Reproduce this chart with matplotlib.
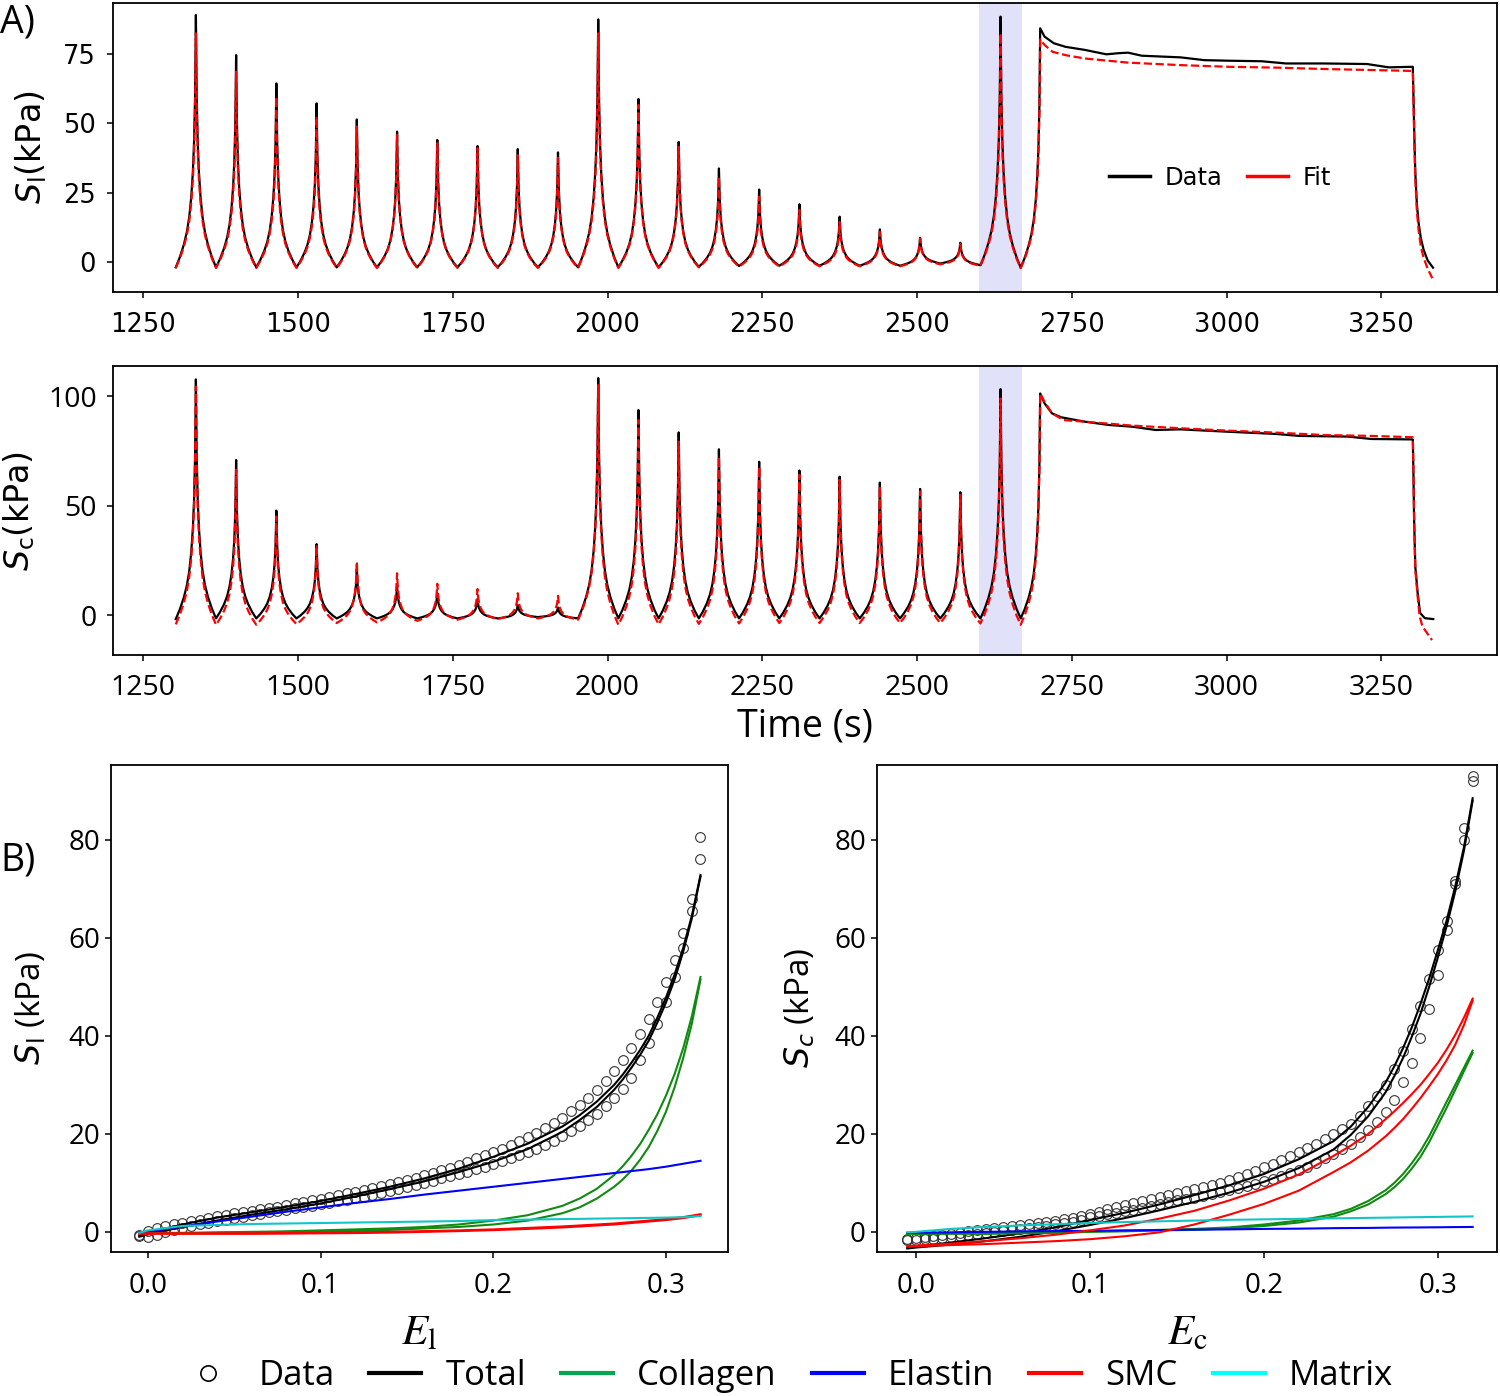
import matplotlib
matplotlib.use("Agg")
import matplotlib.pyplot as plt
from matplotlib.lines import Line2D

plt.rcParams['font.family'] = 'Open Sans'

# ---------------- panel A: cyclic loading ----------------
peak_t = [1335, 1400, 1465, 1530, 1595, 1660, 1725, 1790, 1855, 1920, 1985,
          2050, 2115, 2180, 2245, 2310, 2375, 2440, 2505, 2570, 2635]
half = 32.5  # valley -> peak time (s)

# shape of one loading ramp (fraction of time, fraction of peak rise)
rise_pos = [0.0, 0.2, 0.4, 0.55, 0.67, 0.77, 0.85, 0.91, 0.96, 1.0]
rise_frac = [0.0, 0.04, 0.09, 0.14, 0.2, 0.28, 0.38, 0.5, 0.68, 1.0]

sl_data_peaks = [89.1, 74.6, 64.4, 57.2, 51.4, 47.0, 44.0, 41.8, 40.7, 39.5, 87.5,
                 58.8, 43.3, 33.7, 26.1, 20.8, 16.3, 11.7, 8.7, 6.9, 88.5]
sl_fit_peaks = [82.5, 68.6, 59.6, 52.4, 48.8, 45.8, 42.8, 41.0, 38.5, 37.5, 82.5,
                56.6, 41.5, 30.7, 23.5, 18.7, 14.4, 10.8, 8.4, 6.4, 82.5]
sl_data_valleys = [-2.0, -2.0, -2.0, -2.0, -2.0, -2.0, -2.0, -2.0, -2.0, -2.0, -2.0,
                   -2.0, -2.0, -1.8, -1.5, -1.4, -1.4, -1.4, -1.4, -0.6, -1.2, -2.1]
sl_fit_valleys = [-2.2, -2.2, -2.2, -2.2, -2.2, -2.2, -2.2, -2.2, -2.2, -2.2, -2.2,
                  -2.2, -2.2, -2.0, -1.7, -1.6, -1.6, -1.6, -1.6, -0.9, -1.4, -2.3]

sc_data_peaks = [107.6, 70.8, 47.7, 32.4, 21.0, 13.1, 10.0, 7.3, 4.7, 3.5, 108.2,
                 93.6, 83.4, 75.7, 70.0, 66.0, 63.2, 60.5, 57.6, 56.1, 103.2]
sc_fit_peaks = [104.3, 66.3, 45.0, 32.0, 24.5, 19.1, 14.3, 11.9, 10.0, 8.8, 105.0,
                89.0, 79.2, 72.3, 67.8, 64.0, 61.7, 58.7, 56.4, 54.9, 98.9]
sc_data_valleys = [-1.8, -1.5, -1.5, -1.5, -1.5, -1.5, -1.5, -1.5, -1.5, -0.9, -1.5,
                   -1.5, -1.5, -1.5, -1.5, -1.5, -1.5, -1.5, -1.5, -1.5, -1.5, -1.5]
sc_fit_valleys = [-4.2, -4.4, -4.4, -4.1, -3.6, -3.3, -2.6, -2.1, -1.8, -1.5, -2.1,
                  -4.4, -4.2, -4.0, -3.8, -3.6, -3.6, -3.6, -3.6, -3.6, -3.8, -4.4]

# hold phase and unloading
sl_data_hold_t = [2699, 2706, 2721, 2740, 2771, 2806, 2825, 2841, 2863, 2926, 2964,
                  3003, 3057, 3096, 3158, 3227, 3262, 3301]
sl_data_hold_s = [84.3, 81.3, 78.9, 77.6, 76.5, 74.9, 75.3, 75.5, 74.4, 73.8, 72.8,
                  72.6, 72.4, 71.6, 71.6, 71.4, 70.2, 70.4]
sl_data_drop_t = [3302, 3303.5, 3305, 3307.5, 3310.3, 3314, 3318.4, 3325, 3333.6]
sl_data_drop_s = [60, 45, 32.3, 21, 14.1, 8.5, 4.4, 0.5, -2.1]
sl_fit_hold_t = [2699, 2706, 2719, 2740, 2771, 2841, 2926, 3003, 3080, 3158, 3301]
sl_fit_hold_s = [80.3, 78.3, 75.8, 74.6, 73.4, 71.9, 71.0, 70.4, 70.1, 69.6, 68.9]
sl_fit_drop_t = [3302, 3303.5, 3305, 3307.5, 3310.3, 3314, 3318.4, 3325, 3332.5]
sl_fit_drop_s = [58, 43, 30, 18.5, 11.5, 5.5, 1.5, -2.5, -5.9]

sc_data_hold_t = [2699, 2706, 2718, 2733, 2771, 2810, 2848, 2886, 2925, 3003, 3080,
                  3118, 3196, 3234, 3301]
sc_data_hold_s = [101.2, 96.7, 92.1, 90.3, 88.3, 86.8, 86.0, 84.5, 84.8, 83.7, 82.7,
                  81.8, 81.5, 80.4, 80.2]
sc_data_drop_t = [3302, 3303, 3305, 3308.8, 3312.7, 3320.5, 3334]
sc_data_drop_s = [65, 45, 22.2, 10.2, 1.0, -1.4, -1.8]
sc_fit_hold_t = [2699, 2706, 2718, 2737, 2771, 2848, 2925, 3003, 3080, 3158, 3234, 3301]
sc_fit_hold_s = [101.2, 97.4, 92.1, 89.0, 88.3, 86.5, 85.3, 84.2, 83.3, 82.2, 81.8, 81.2]
sc_fit_drop_t = [3302, 3303, 3305, 3308.8, 3312, 3316.6, 3332]
sc_fit_drop_s = [66, 46, 21, 8.5, -0.5, -5.2, -11.4]


def build_series(peaks, valleys, hold_t, hold_s, drop_t, drop_s):
    t, s = [], []
    for k, pk in enumerate(peaks):
        v0, v1 = valleys[k], valleys[k + 1]
        tp = peak_t[k]
        for p, f in zip(rise_pos, rise_frac):
            t.append(tp - half * (1 - p))
            s.append(v0 + (pk - v0) * f)
        for p, f in zip(rise_pos[-2::-1], rise_frac[-2::-1]):
            t.append(tp + half * (1 - p))
            s.append(v1 + (pk - v1) * f)
    # ramp into the hold
    v0 = valleys[-1]
    t_start = peak_t[-1] + half
    for p, f in zip(rise_pos[1:-1], rise_frac[1:-1]):
        t.append(t_start + (hold_t[0] - t_start) * p)
        s.append(v0 + (hold_s[0] - v0) * f)
    t += hold_t + drop_t
    s += hold_s + drop_s
    return t, s


# ---------------- panel B: stress-strain ----------------
E_line = [-0.005, 0.0, 0.02, 0.04, 0.06, 0.08, 0.10, 0.12, 0.14, 0.16, 0.18, 0.20,
          0.22, 0.24, 0.25, 0.26, 0.27, 0.275, 0.28, 0.285, 0.29, 0.295, 0.30,
          0.305, 0.31, 0.315, 0.32]
E_pts = [round(-0.005 + 0.005 * i, 4) for i in range(66)]

# longitudinal
l_data_up = [-0.6, 0.2, 0.7, 1.1, 1.5, 1.8, 2.2, 2.5, 2.9, 3.2, 3.5, 3.8, 4.0, 4.3,
             4.6, 4.8, 5.1, 5.4, 5.8, 6.1, 6.5, 6.8, 7.2, 7.5, 7.9, 8.2, 8.6, 9.0,
             9.4, 9.8, 10.2, 10.6, 11.0, 11.5, 12.0, 12.6, 13.1, 13.7, 14.3, 15.0,
             15.6, 16.3, 17.0, 17.7, 18.5, 19.3, 20.2, 21.2, 22.2, 23.3, 24.6, 25.9,
             27.4, 29.0, 30.8, 32.8, 35.0, 37.5, 40.3, 43.5, 47.0, 51.0, 55.5, 61.0,
             68.0, 80.5]
l_data_lo = [-0.8, -1.0, -0.6, -0.1, 0.3, 0.8, 1.1, 1.5, 1.9, 2.2, 2.5, 2.8, 3.1, 3.4,
             3.7, 4.0, 4.2, 4.5, 4.8, 5.0, 5.3, 5.6, 5.9, 6.2, 6.6, 6.9, 7.2, 7.6,
             7.9, 8.3, 8.7, 9.1, 9.5, 10.0, 10.4, 10.9, 11.3, 11.8, 12.3, 12.8, 13.3,
             13.8, 14.4, 15.0, 15.6, 16.3, 17.0, 17.8, 18.6, 19.5, 20.5, 21.6, 22.8,
             24.1, 25.6, 27.3, 29.2, 31.4, 35.0, 38.5, 42.5, 47.0, 52.0, 58.0, 65.5,
             76.0]
l_total_up = [-0.8, -0.2, 1.5, 2.9, 4.0, 5.1, 6.3, 7.7, 9.2, 10.9, 12.9, 15.3, 18.0,
              21.5, 23.8, 26.6, 30.0, 32.1, 34.5, 37.1, 40.0, 43.7, 47.8, 52.5, 58.0,
              64.5, 72.8]
l_total_lo = [-1.0, -0.5, 1.0, 2.3, 3.5, 4.6, 5.8, 7.2, 8.7, 10.3, 12.2, 14.3, 16.9,
              20.4, 22.8, 25.5, 29.0, 31.1, 33.5, 36.1, 39.0, 42.7, 46.8, 51.5, 57.2,
              64.0, 72.5]
l_coll_up = [-0.2, -0.2, -0.2, -0.1, 0.0, 0.1, 0.3, 0.5, 0.7, 1.0, 1.5, 2.3, 3.4, 5.3,
             6.8, 8.8, 11.6, 13.4, 15.5, 17.9, 20.8, 24.0, 27.8, 32.2, 37.5, 44.0, 52.0]
l_coll_lo = [-0.3, -0.3, -0.3, -0.2, -0.1, 0.0, 0.1, 0.2, 0.4, 0.7, 1.0, 1.5, 2.3, 3.8,
             5.0, 6.8, 9.2, 10.7, 12.5, 14.7, 17.3, 20.6, 24.5, 29.5, 35.5, 42.5, 51.5]
l_elastin = [-0.3, 0.0, 1.1, 2.1, 3.1, 4.1, 5.0, 5.9, 6.7, 7.6, 8.4, 9.2, 10.0, 10.8,
             11.2, 11.6, 12.0, 12.2, 12.4, 12.6, 12.8, 13.05, 13.3, 13.6, 13.9, 14.2,
             14.5]
l_smc_up = [-0.3, -0.3, -0.3, -0.3, -0.3, -0.25, -0.2, -0.1, 0.0, 0.15, 0.3, 0.5, 0.8,
            1.1, 1.3, 1.5, 1.7, 1.85, 2.0, 2.15, 2.3, 2.45, 2.6, 2.8, 3.0, 3.3, 3.6]
l_smc_lo = [-0.4, -0.4, -0.4, -0.4, -0.4, -0.35, -0.3, -0.25, -0.15, 0.0, 0.15, 0.35,
            0.6, 0.9, 1.1, 1.3, 1.5, 1.65, 1.8, 1.95, 2.1, 2.25, 2.4, 2.6, 2.8, 3.1, 3.4]
l_matrix = [-0.2, 0.3, 1.2, 1.4, 1.6, 1.7, 1.8, 1.9, 2.0, 2.1, 2.2, 2.4, 2.5, 2.6,
            2.65, 2.7, 2.75, 2.78, 2.8, 2.83, 2.85, 2.88, 2.9, 2.95, 3.0, 3.1, 3.2]

# circumferential
c_data_up = [-1.5, -1.3, -1.1, -0.9, -0.6, -0.4, -0.2, 0.1, 0.3, 0.5, 0.7, 0.9, 1.1,
             1.3, 1.6, 1.8, 2.0, 2.3, 2.6, 2.9, 3.3, 3.7, 4.1, 4.6, 5.0, 5.5, 5.9,
             6.3, 6.8, 7.2, 7.6, 8.0, 8.4, 8.8, 9.2, 9.6, 10.0, 10.5, 11.1, 11.8,
             12.5, 13.2, 13.9, 14.7, 15.4, 16.2, 17.1, 18.0, 18.9, 19.9, 20.9, 22.0,
             23.7, 25.6, 27.7, 30.0, 33.3, 37.0, 41.3, 46.0, 51.5, 57.5, 63.5, 71.0,
             80.0, 93.0]
c_data_lo = [-1.7, -1.6, -1.5, -1.4, -1.3, -1.1, -0.9, -0.7, -0.5, -0.3, 0.0, 0.2, 0.4,
             0.6, 0.8, 1.0, 1.2, 1.5, 1.8, 2.1, 2.5, 3.0, 3.3, 3.6, 3.9, 4.2, 4.5,
             4.9, 5.3, 5.7, 6.0, 6.4, 6.7, 7.0, 7.3, 7.7, 8.1, 8.5, 8.9, 9.3, 9.8,
             10.3, 10.8, 11.4, 12.0, 12.6, 13.3, 14.1, 15.0, 15.9, 16.9, 18.0, 19.3,
             20.8, 22.5, 24.5, 27.0, 30.5, 34.5, 39.5, 45.5, 52.5, 61.5, 71.5, 82.5,
             92.0]
c_total_up = [-3.2, -3.0, -2.2, -1.3, -0.3, 0.9, 2.4, 3.9, 5.6, 7.5, 9.5, 11.8, 14.8,
              18.5, 21.5, 25.5, 30.5, 33.8, 37.5, 41.7, 46.5, 51.7, 57.5, 63.5, 70.5,
              78.5, 88.5]
c_total_lo = [-3.4, -3.2, -2.6, -1.9, -1.0, 0.1, 1.4, 2.8, 4.4, 6.1, 8.0, 10.2, 13.0,
              16.8, 19.8, 23.6, 28.5, 31.8, 35.5, 39.8, 44.5, 50.0, 56.0, 62.3, 69.5,
              77.8, 88.0]
c_coll_up = [-0.3, -0.3, -0.3, -0.3, -0.2, -0.1, 0.1, 0.2, 0.4, 0.6, 0.9, 1.5, 2.3,
             3.6, 4.7, 6.3, 8.5, 10.0, 11.8, 14.0, 16.5, 19.5, 23.0, 26.5, 30.0, 33.5,
             37.0]
c_coll_lo = [-0.4, -0.4, -0.4, -0.4, -0.3, -0.2, 0.0, 0.1, 0.3, 0.4, 0.7, 1.2, 1.9,
             3.1, 4.2, 5.6, 7.7, 9.1, 10.8, 12.9, 15.3, 18.3, 21.8, 25.3, 29.0, 32.8,
             36.5]
c_elastin = [-0.2, -0.2, -0.1, 0.0, 0.1, 0.15, 0.2, 0.3, 0.35, 0.45, 0.5, 0.6, 0.65,
             0.75, 0.78, 0.8, 0.85, 0.87, 0.88, 0.89, 0.9, 0.92, 0.93, 0.95, 0.97,
             0.98, 1.0]
c_smc_up = [-2.9, -2.8, -2.4, -1.9, -1.3, -0.6, 0.3, 1.3, 2.7, 4.3, 6.4, 8.8, 11.7,
            15.5, 17.6, 20.0, 23.0, 24.6, 26.3, 28.1, 30.0, 32.2, 34.5, 37.2, 40.2,
            43.7, 47.6]
c_smc_lo = [-3.0, -2.9, -2.7, -2.5, -2.2, -1.9, -1.5, -0.9, -0.1, 1.5, 3.5, 5.7, 8.4,
            12.2, 14.2, 16.6, 19.5, 21.2, 23.0, 25.1, 27.3, 29.7, 32.2, 35.0, 38.2,
            42.2, 47.2]
c_matrix = [-0.1, 0.0, 0.6, 1.0, 1.3, 1.55, 1.8, 2.0, 2.15, 2.3, 2.45, 2.55, 2.65,
            2.75, 2.8, 2.85, 2.9, 2.93, 2.95, 2.98, 3.0, 3.03, 3.05, 3.08, 3.1, 3.12,
            3.15]

green_line = '#118a11'
cyan_line = '#12c6c6'

fig = plt.figure(figsize=(15, 13.96), dpi=100)
ax1 = fig.add_axes([0.0753, 0.7908, 0.9227, 0.207])
ax2 = fig.add_axes([0.0753, 0.5308, 0.9227, 0.207])
ax3 = fig.add_axes([0.074, 0.1032, 0.4113, 0.3489])
ax4 = fig.add_axes([0.5847, 0.1032, 0.4133, 0.3489])

for ax in [ax1, ax2, ax3, ax4]:
    for sp in ax.spines.values():
        sp.set_linewidth(1.3)
    ax.tick_params(width=1.1, length=4.5)

# --- A top
t, s = build_series(sl_data_peaks, sl_data_valleys, sl_data_hold_t, sl_data_hold_s,
                    sl_data_drop_t, sl_data_drop_s)
ax1.plot(t, s, color='black', lw=1.6)
t, s = build_series(sl_fit_peaks, sl_fit_valleys, sl_fit_hold_t, sl_fit_hold_s,
                    sl_fit_drop_t, sl_fit_drop_s)
ax1.plot(t, s, color='red', lw=1.6, ls='--')
ax1.axvspan(2600, 2670, color='#e1e1fa', zorder=0, lw=0)
ax1.set_xlim(1201, 3437)
ax1.set_ylim(-10.9, 93.4)
ax1.set_yticks([0, 25, 50, 75])
ax1.set_xticks(range(1250, 3251, 250))
ax1.tick_params(labelsize=18.5, labelfontfamily='DejaVu Sans')
ax1.tick_params(axis='x', pad=10)
ax1.tick_params(axis='y', pad=8)
ax1.set_ylabel(r'$S_\mathrm{l}$(kPa)', fontsize=24, family='DejaVu Sans', labelpad=10)
ax1.legend(handles=[Line2D([], [], color='black', lw=2.5, label='Data'),
                    Line2D([], [], color='red', lw=2.5, label='Fit')],
           loc='center', bbox_to_anchor=(0.80, 0.395), ncol=2, frameon=False,
           prop={'family': 'DejaVu Sans', 'size': 17.5}, handlelength=1.7,
           handletextpad=0.6, columnspacing=1.0)

# --- A bottom
t, s = build_series(sc_data_peaks, sc_data_valleys, sc_data_hold_t, sc_data_hold_s,
                    sc_data_drop_t, sc_data_drop_s)
ax2.plot(t, s, color='black', lw=1.6)
t, s = build_series(sc_fit_peaks, sc_fit_valleys, sc_fit_hold_t, sc_fit_hold_s,
                    sc_fit_drop_t, sc_fit_drop_s)
ax2.plot(t, s, color='red', lw=1.6, ls='--')
ax2.axvspan(2600, 2670, color='#e1e1fa', zorder=0, lw=0)
ax2.set_xlim(1201, 3437)
ax2.set_ylim(-18.2, 113.7)
ax2.set_yticks([0, 50, 100])
ax2.set_xticks(range(1250, 3251, 250))
ax2.tick_params(labelsize=20.5)
ax2.tick_params(axis='x', pad=9)
ax2.tick_params(axis='y', pad=7)
ax2.set_ylabel(r'$S_\mathrm{c}$(kPa)', fontsize=24, family='DejaVu Sans', labelpad=8)
ax2.set_xlabel('Time (s)', fontsize=27, labelpad=4)


# --- B panels
def stress_strain(ax, d_up, d_lo, tot_up, tot_lo, col_up, col_lo, ela, smc_up, smc_lo, mat):
    for d in (d_up, d_lo):
        ax.plot(E_pts, d, ls='none', marker='o', ms=7, mfc='none', mec='#333333', mew=0.8)
    ax.plot(E_line, tot_up, color='black', lw=1.5)
    ax.plot(E_line, tot_lo, color='black', lw=1.5)
    ax.plot(E_line, col_up, color=green_line, lw=1.5)
    ax.plot(E_line, col_lo, color=green_line, lw=1.5)
    ax.plot(E_line, ela, color='blue', lw=1.5)
    ax.plot(E_line, smc_up, color='red', lw=1.5)
    ax.plot(E_line, smc_lo, color='red', lw=1.5)
    ax.plot(E_line, mat, color=cyan_line, lw=1.5)
    ax.set_ylim(-4.1, 95.3)
    ax.set_xticks([0.0, 0.1, 0.2, 0.3])
    ax.set_yticks([0, 20, 40, 60, 80])
    ax.tick_params(labelsize=20)
    ax.tick_params(axis='x', pad=10)


stress_strain(ax3, l_data_up, l_data_lo, l_total_up, l_total_lo, l_coll_up, l_coll_lo,
              l_elastin, l_smc_up, l_smc_lo, l_matrix)
ax3.set_xlim(-0.0214, 0.3359)
ax3.set_xlabel(r'$E_\mathrm{l}$', fontsize=31, math_fontfamily='stix', labelpad=8)
ax3.set_ylabel(r'$S_\mathrm{l}$ (kPa)', fontsize=24, labelpad=14)

stress_strain(ax4, c_data_up, c_data_lo, c_total_up, c_total_lo, c_coll_up, c_coll_lo,
              c_elastin, c_smc_up, c_smc_lo, c_matrix)
ax4.set_xlim(-0.0224, 0.334)
ax4.set_xlabel(r'$E_\mathrm{c}$', fontsize=31, math_fontfamily='stix', labelpad=8)
ax4.set_ylabel(r'$S_c$ (kPa)', fontsize=24, labelpad=12)

handles = [Line2D([], [], ls='none', marker='o', ms=11, mfc='none', mec='black', mew=1.2),
           Line2D([], [], color='black', lw=3),
           Line2D([], [], color='#00a651', lw=3),
           Line2D([], [], color='blue', lw=3),
           Line2D([], [], color='red', lw=3),
           Line2D([], [], color='cyan', lw=3)]
labels = ['Data', 'Total', 'Collagen', 'Elastin', 'SMC', 'Matrix']
fig.legend(handles, labels, loc='center', bbox_to_anchor=(0.525, 0.0145), ncol=6,
           frameon=False, fontsize=25, handlelength=1.5, handletextpad=0.7,
           columnspacing=1.0, borderpad=0.1)

fig.text(0.0, 1 - 22 / 1396, 'A)', fontsize=27, va='center', ha='left')
fig.text(0.0, 1 - 860 / 1396, 'B)', fontsize=27, va='center', ha='left')

fig.savefig('out.png', dpi=100)
